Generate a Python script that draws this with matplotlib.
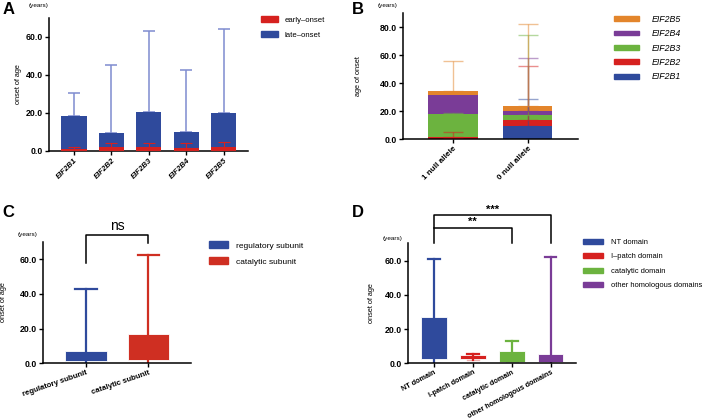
import matplotlib
matplotlib.use("Agg")
import matplotlib.pyplot as plt
import numpy as np
from matplotlib.patches import Patch

plt.rcParams["font.family"] = ["Liberation Sans", "DejaVu Sans"]
plt.rcParams["axes.linewidth"] = 1.1

BLUE = "#2f4a9c"
RED = "#d6211f"
GREEN = "#6cb33f"
PURPLE = "#7a3c97"
ORANGE = "#e3852b"
RED_C = "#cf2f22"

# ---------------------------------------------------------------------------
# Data
# ---------------------------------------------------------------------------
a_genes = ["EIF2B1", "EIF2B2", "EIF2B3", "EIF2B4", "EIF2B5"]
a_late = [18.4, 9.3, 20.5, 10.1, 19.8]
a_late_max = [30.3, 45.0, 63.0, 42.5, 64.0]
a_early = [1.0, 1.9, 1.9, 1.4, 1.9]
a_early_max = [1.9, 4.0, 4.0, 4.0, 4.7]

b_groups = ["1 null allele", "0 null allele"]
b_genes = ["EIF2B1", "EIF2B2", "EIF2B3", "EIF2B4", "EIF2B5"]
# stacked segment heights (bottom to top), one list per gene
b_heights = {
    "EIF2B1": [0.0, 9.7],
    "EIF2B2": [1.7, 3.8],
    "EIF2B3": [16.1, 3.6],
    "EIF2B4": [13.8, 3.1],
    "EIF2B5": [2.6, 3.6],
}
# top of the error bar for each segment (nan = none)
b_err_top = {
    "EIF2B1": [np.nan, 28.7],
    "EIF2B2": [5.0, 52.7],
    "EIF2B3": [18.8, 74.6],
    "EIF2B4": [np.nan, 58.2],
    "EIF2B5": [55.6, 82.4],
}

c_groups = ["regulatory subunit", "catalytic subunit"]
c_whislo = [0.0, 0.0]
c_q1 = [1.3, 1.9]
c_med = [3.5, 7.0]
c_q3 = [7.0, 16.8]
c_whishi = [43.0, 62.1]

d_groups = ["NT domain", "I-patch domain", "catalytic domain", "other homologous domains"]
d_whislo = [0.4, 2.0, 0.5, 0.0]
d_q1 = [2.5, 2.7, 1.0, 1.0]
d_med = [10.0, 3.6, 3.0, 2.5]
d_q3 = [26.8, 4.7, 7.2, 5.5]
d_whishi = [61.2, 5.3, 13.1, 62.1]


def style_axes(ax, ymax, step, ylabel, label_x):
    ax.spines["top"].set_visible(False)
    ax.spines["right"].set_visible(False)
    ax.set_ylim(0, ymax)
    ticks = np.arange(0, ymax, step)
    ax.set_yticks(ticks)
    ax.set_yticklabels([f"{t:.1f}" for t in ticks], fontsize=6.3, fontweight="bold")
    ax.tick_params(axis="both", length=3, width=1.0, pad=1.5)
    ax.set_ylabel(ylabel, fontsize=5.3)
    ax.yaxis.set_label_coords(label_x, 0.5)


def legend(handles, anchor, fs, hl, hh, ls, pad):
    return fig.legend(handles=handles, loc="upper left", bbox_to_anchor=anchor,
                      frameon=False, fontsize=fs, handlelength=hl, handleheight=hh,
                      labelspacing=ls, handletextpad=pad, borderaxespad=0, borderpad=0)


def boxes(ax, groups, lo, q1, med, q3, hi, colors, capw):
    stats = []
    for i, name in enumerate(groups):
        stats.append({"whislo": lo[i], "q1": q1[i], "med": med[i],
                      "q3": q3[i], "whishi": hi[i], "label": name})
    positions = list(range(len(groups)))
    bp = ax.bxp(stats, positions=positions, widths=0.66, patch_artist=True,
                showfliers=False, capwidths=capw)
    for i, c in enumerate(colors):
        bp["boxes"][i].set_facecolor(c)
        bp["boxes"][i].set_edgecolor("#ffffff")
        bp["boxes"][i].set_linewidth(0.6)
        bp["medians"][i].set_linewidth(0)
        for w in bp["whiskers"][2 * i:2 * i + 2]:
            w.set_color(c)
            w.set_linewidth(1.6)
        bp["caps"][2 * i].set_color(c)
        bp["caps"][2 * i].set_alpha(0.35)
        bp["caps"][2 * i + 1].set_color(c)
        bp["caps"][2 * i + 1].set_linewidth(1.6)
    return positions


fig = plt.figure(figsize=(7.08, 4.19), dpi=100)

# ── Panel A ──
axA = fig.add_axes([0.069, 0.640, 0.281, 0.317])
xa = np.arange(len(a_genes))
axA.bar(xa, a_late, width=0.67, color=BLUE, zorder=2)
axA.errorbar(xa, a_late, yerr=[np.zeros(len(xa)), np.array(a_late_max) - np.array(a_late)],
             fmt="none", ecolor="#7f8cd0", elinewidth=1.1, capsize=4.5, capthick=1.1, zorder=1)
axA.bar(xa, a_early, width=0.67, color=RED, zorder=3)
axA.errorbar(xa, a_early, yerr=[np.zeros(len(xa)), np.array(a_early_max) - np.array(a_early)],
             fmt="none", ecolor=RED, elinewidth=0.8, capsize=4.5, capthick=0.8, zorder=4)
axA.set_xlim(-0.67, 4.64)
style_axes(axA, 70, 20, "onset of age", -0.136)
axA.set_xticks(xa)
axA.set_xticklabels(a_genes, rotation=45, ha="right", rotation_mode="anchor",
                    fontsize=5.6, fontweight="bold", fontstyle="italic")
legend([Patch(color=RED, label="early\u2013onset"), Patch(color=BLUE, label="late\u2013onset")],
       (0.368, 0.962), 5.6, 2.2, 0.8, 1.0, 0.85)

# ── Panel B ──
axB = fig.add_axes([0.569, 0.668, 0.247, 0.300])
xb = np.arange(len(b_groups))
b_colors = {"EIF2B1": BLUE, "EIF2B2": RED, "EIF2B3": GREEN, "EIF2B4": PURPLE, "EIF2B5": ORANGE}
bottom = np.zeros(len(b_groups))
for g in b_genes:
    h = np.array(b_heights[g])
    axB.bar(xb, h, bottom=bottom, width=0.66, color=b_colors[g], zorder=2, label=g)
    top = bottom + h
    err = np.array(b_err_top[g]) - top
    ok = ~np.isnan(err)
    axB.errorbar(xb[ok], top[ok], yerr=[np.zeros(ok.sum()), err[ok]], fmt="none",
                 ecolor=b_colors[g], alpha=0.5, elinewidth=1.0, capsize=7, capthick=1.0, zorder=3)
    bottom = top
axB.set_xlim(-0.667, 1.667)
style_axes(axB, 90, 20, "age of onset", -0.234)
axB.set_xticks(xb)
axB.set_xticklabels(b_groups, rotation=45, ha="right", rotation_mode="anchor",
                    fontsize=5.9, fontweight="bold")
b_handles = [Patch(color=b_colors[g], label=g) for g in b_genes[::-1]]
legB = legend(b_handles, (0.867, 0.965), 6.3, 2.9, 0.45, 0.62, 1.4)
for t in legB.get_texts():
    t.set_fontstyle("italic")

# ── Panel C ──
axC = fig.add_axes([0.0607, 0.133, 0.209, 0.290])
pc = boxes(axC, c_groups, c_whislo, c_q1, c_med, c_q3, c_whishi, [BLUE, RED_C], 0.34)
axC.set_xlim(-0.69, 1.68)
style_axes(axC, 70, 20, "onset of age", -0.24)
axC.set_xticks(pc)
axC.set_xticklabels(c_groups, rotation=19, ha="right", rotation_mode="anchor",
                    fontsize=5.6, fontweight="bold")
axC.plot([0, 0, 1, 1], [57.6, 74.0, 74.0, 69.5], color="black", lw=1.1, clip_on=False)
axC.text(0.5, 79.0, "ns", ha="center", va="center", fontsize=10)
legend([Patch(color=BLUE, label="regulatory subunit"), Patch(color=RED_C, label="catalytic subunit")],
       (0.295, 0.424), 6.0, 2.3, 0.85, 0.95, 1.0)

# ── Panel D ──
axD = fig.add_axes([0.576, 0.133, 0.238, 0.286])
pd_ = boxes(axD, d_groups, d_whislo, d_q1, d_med, d_q3, d_whishi,
            [BLUE, RED, GREEN, PURPLE], 0.3)
axD.set_xlim(-0.67, 3.66)
style_axes(axD, 70, 20, "onset of age", -0.196)
axD.set_xticks(pd_)
axD.set_xticklabels(d_groups, rotation=28, ha="right", rotation_mode="anchor",
                    fontsize=5.2, fontweight="bold")
axD.tick_params(axis="x", pad=1.0)
axD.plot([0, 0, 3, 3], [70.4, 86.6, 86.6, 70.4], color="black", lw=1.1, clip_on=False)
axD.plot([0, 2, 2], [79.2, 79.2, 70.4], color="black", lw=1.1, clip_on=False)
axD.text(1.5, 89.6, "***", ha="center", va="center", fontsize=8, fontweight="bold")
axD.text(1.0, 82.6, "**", ha="center", va="center", fontsize=8, fontweight="bold")
legend([Patch(color=BLUE, label="NT domain"),
        Patch(color=RED, label="I\u2013patch domain"),
        Patch(color=GREEN, label="catalytic domain"),
        Patch(color=PURPLE, label="other homologous domains")],
       (0.824, 0.430), 5.4, 2.6, 0.7, 0.95, 1.1)

# ── "(years)" unit labels and panel letters ──
for x, y in [(0.054, 0.987), (0.547, 0.987), (0.039, 0.440), (0.555, 0.430)]:
    fig.text(x, y, "(years)", ha="center", va="center", fontsize=4.6)
for x, y, s in [(0.004, 0.978, "A"), (0.497, 0.978, "B"), (0.004, 0.492, "C"), (0.497, 0.492, "D")]:
    fig.text(x, y, s, ha="left", va="center", fontsize=12, fontweight="bold")

fig.savefig("out.png", dpi=100)
